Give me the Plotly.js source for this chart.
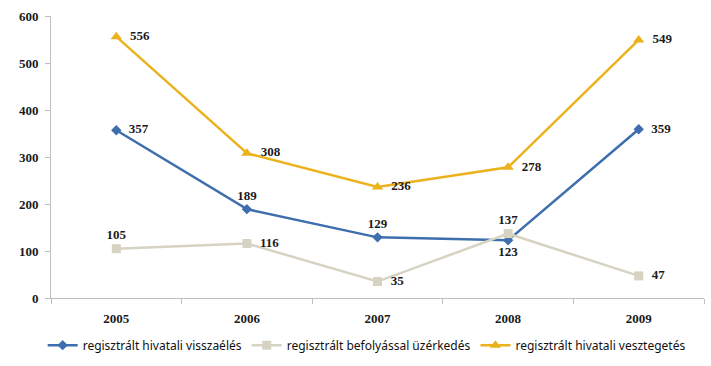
<!DOCTYPE html>
<html><head><meta charset="utf-8">
<script src="https://cdn.plot.ly/plotly-3.0.1.min.js"></script>
<style>html,body{margin:0;padding:0;background:#fff;}#chart{width:711px;height:366px;}</style>
</head><body><div id="chart"></div>
<script>
const years = ['2005','2006','2007','2008','2009'];
const visszaeles = [357, 189, 129, 123, 359];
const befolyas = [105, 116, 35, 137, 47];
const vesztegetes = [556, 308, 236, 278, 549];
const names = ['regisztrált hivatali visszaélés','regisztrált befolyással üzérkedés','regisztrált hivatali vesztegetés'];
const posBlue = ['middle right','top center','top center','bottom center','middle right'];
const posGray = ['top center','middle right','middle right','top center','middle right'];
const posGold = ['middle right','middle right','middle right','middle right','middle right'];
const lblFont = {family:'Liberation Serif, serif', size:13, color:'#1a1a1a', weight:'bold'};
function tr(y, name, color, symbol, size, pos){
  return {x: years, y: y, name: name, type:'scatter', mode:'lines+markers+text',
    text: y.map((v,i)=> pos[i]==='middle right' ? '\u2002' + v : String(v)),
    textposition: pos, textfont: lblFont, cliponaxis:false,
    line:{color:color, width:2.5}, marker:{color:color, symbol:symbol, size:size}};
}
const data = [
  tr(visszaeles, names[0], '#3E6EAD', 'diamond', 8, posBlue),
  tr(befolyas, names[1], '#D6D3C2', 'square', 9, posGray),
  tr(vesztegetes, names[2], '#EBB21C', 'triangle-up', 10, posGold)
];
const layout = {
  width:711, height:366,
  margin:{l:51, r:7, t:16, b:68},
  paper_bgcolor:'#fff', plot_bgcolor:'#fff',
  showlegend:true,
  legend:{orientation:'h', xref:'container', x:0.06, xanchor:'left', yref:'container', y:0.057, yanchor:'middle',
    font:{family:'Noto Sans, sans-serif', size:12, color:'#111'}, itemwidth:30, tracegroupgap:0},
  xaxis:{type:'category', range:[-0.5,4.5], showgrid:false, zeroline:false, automargin:false,
    showline:true, linecolor:'#BFBFBF', linewidth:1, ticks:'outside', tickson:'boundaries',
    ticklen:5, tickcolor:'#BFBFBF', ticklabelstandoff:8,
    tickfont:{family:'Liberation Serif, serif', size:13, color:'#1a1a1a', weight:'bold'}},
  yaxis:{range:[0,600], dtick:100, showgrid:false, zeroline:false, automargin:false,
    showline:true, linecolor:'#BFBFBF', linewidth:1, ticks:'outside', ticklen:5, tickcolor:'#BFBFBF',
    ticklabelstandoff:4,
    tickfont:{family:'Liberation Serif, serif', size:13, color:'#1a1a1a', weight:'bold'}}
};
Plotly.newPlot('chart', data, layout, {displayModeBar:false, staticPlot:true});
</script></body></html>
